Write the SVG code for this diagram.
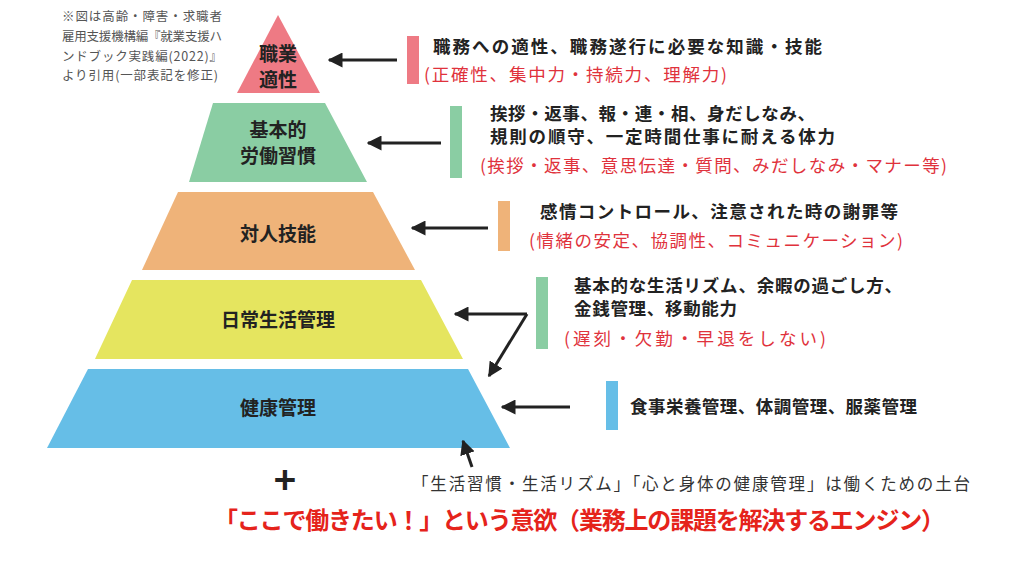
<svg xmlns="http://www.w3.org/2000/svg" width="1024" height="566" viewBox="0 0 1024 566">
<style>
text{font-family:"Noto Sans CJK JP","Noto Sans",sans-serif}
.lbl{font-size:19px;font-weight:bold;fill:#222;text-anchor:middle}
.b{font-size:17.5px;font-weight:bold;fill:#222}
.r{font-size:17.5px;fill:#e0323c}
.n{font-size:12.5px;fill:#555}
.ar{stroke:#222;stroke-width:3;fill:none;marker-end:url(#ah)}
</style>
<defs><marker id="ah" viewBox="0 0 10 10" refX="9" refY="5" markerWidth="5" markerHeight="5" orient="auto" markerUnits="strokeWidth"><path d="M0,0L10,5L0,10z" fill="#222"/></marker></defs>
<rect width="1024" height="566" fill="#fff"/>
<g id="note"><text class="n" x="62" y="21" textLength="160">※図は高齢・障害・求職者</text><text class="n" x="62" y="41" textLength="160">雇用支援機構編『就業支援ハ</text><text class="n" x="62" y="61" textLength="160">ンドブック実践編(2022)』</text><text class="n" x="62" y="80" textLength="156">より引用(一部表記を修正)</text></g>
<g id="l1"><polygon points="278,15 320,93 237,93" fill="#ee7a84"/><text class="lbl" x="278" y="61">職業</text><text class="lbl" x="278" y="87">適性</text></g>
<g id="l2"><polygon points="213,103 325,103 367,182 189,182" fill="#8acda3"/><text class="lbl" x="278" y="137">基本的</text><text class="lbl" x="278" y="163">労働習慣</text></g>
<g id="l3"><polygon points="178,192 373,192 415,270 142,270" fill="#efb379"/><text class="lbl" x="278" y="241">対人技能</text></g>
<g id="l4"><polygon points="132,280 421,280 463,359 95,359" fill="#e5e55f"/><text class="lbl" x="278" y="327">日常生活管理</text></g>
<g id="l5"><polygon points="88,369 468,369 510,448 47,448" fill="#66bee7"/><text class="lbl" x="278" y="415">健康管理</text></g>
<g id="d1"><rect x="407" y="36" width="12" height="48" fill="#ee7a84"/><text class="b" x="433" y="53" textLength="389">職務への適性、職務遂行に必要な知識・技能</text><text class="r" x="424" y="81" textLength="303">(正確性、集中力・持続力、理解力)</text></g>
<g id="d2"><rect x="450" y="106" width="12" height="72" fill="#8acda3"/><text class="b" x="490" y="120" textLength="325">挨拶・返事、報・連・相、身だしなみ、</text><text class="b" x="490" y="143" textLength="345">規則の順守、一定時間仕事に耐える体力</text><text class="r" x="480" y="172" textLength="467">(挨拶・返事、意思伝達・質問、みだしなみ・マナー等)</text></g>
<g id="d3"><rect x="498" y="201" width="12" height="50" fill="#efb379"/><text class="b" x="540" y="218" textLength="358">感情コントロール、注意された時の謝罪等</text><text class="r" x="529" y="247" textLength="374">(情緒の安定、協調性、コミュニケーション)</text></g>
<g id="d4"><rect x="536" y="277" width="12" height="72" fill="#8acda3"/><text class="b" x="574" y="292" textLength="328">基本的な生活リズム、余暇の過ごし方、</text><text class="b" x="574" y="315" textLength="163">金銭管理、移動能力</text><text class="r" x="564" y="345" textLength="262">(遅刻・欠勤・早退をしない)</text></g>
<g id="d5"><rect x="606" y="381" width="12" height="49" fill="#66bee7"/><text class="b" x="630" y="413" textLength="287">食事栄養管理、体調管理、服薬管理</text></g>
<g id="connectors">
<line class="ar" x1="397" y1="60" x2="329" y2="60"/>
<line class="ar" x1="441" y1="143" x2="368" y2="143"/>
<line class="ar" x1="488" y1="228" x2="412" y2="228"/>
<line class="ar" x1="527" y1="314" x2="455" y2="314"/>
<line class="ar" x1="527" y1="314" x2="489" y2="376"/>
<line class="ar" x1="570" y1="407" x2="502" y2="407"/>
<line class="ar" x1="472" y1="467" x2="463" y2="441"/>
</g>
<g id="foot">
<text x="285" y="494" font-size="38" font-weight="bold" fill="#222" text-anchor="middle">+</text>
<text x="412" y="490" font-size="16.5" fill="#333" textLength="558">「生活習慣・生活リズム」「心と身体の健康管理」は働くための土台</text>
<text x="214" y="529" font-size="24" font-weight="bold" fill="#e5231b" textLength="731">「ここで働きたい！」という意欲（業務上の課題を解決するエンジン）</text>
</g>
</svg>
